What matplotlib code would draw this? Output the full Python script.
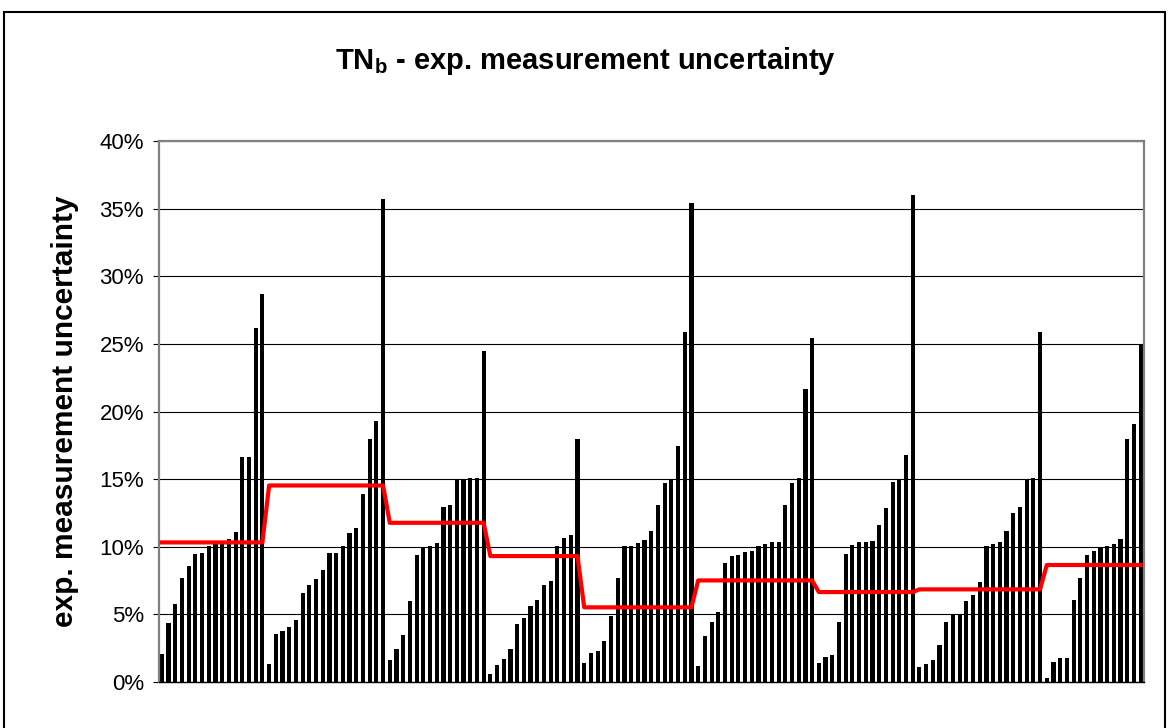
"""
TNb - expanded measurement uncertainty per sample, grouped by round,
with the per-round reference level drawn as a red step line.
"""

import matplotlib
matplotlib.use('Agg')
import matplotlib.pyplot as plt
import numpy as np
from matplotlib.patches import Rectangle
from matplotlib.ticker import FuncFormatter, MultipleLocator

plt.rcParams['font.family'] = ['Liberation Sans', 'DejaVu Sans']
plt.rcParams['mathtext.fontset'] = 'custom'
plt.rcParams['mathtext.rm'] = 'Liberation Sans:bold'
plt.rcParams['mathtext.bf'] = 'Liberation Sans:bold'

# ----------------------------------------------------------------------------
# Data (values in %)
# ----------------------------------------------------------------------------
round_1 = [2.07, 4.38, 5.76, 7.71, 8.57, 9.43, 9.56, 10.07, 10.17, 10.25, 10.54,
           11.1, 16.65, 16.65, 26.2, 28.7]
round_2 = [1.33, 3.52, 3.79, 4.09, 4.61, 6.6, 7.17, 7.61, 8.28, 9.56, 9.56,
           10.05, 10.99, 11.35, 13.9, 18.0, 19.3, 35.7]
round_3 = [1.63, 2.44, 3.45, 6.01, 9.38, 9.98, 10.05, 10.3, 12.96, 13.05, 14.98,
           15.02, 15.12, 15.12, 24.5]
round_4 = [0.57, 1.23, 1.67, 2.44, 4.26, 4.7, 5.62, 6.06, 7.17, 7.49, 10.07,
           10.67, 10.84, 17.93]
round_5 = [1.38, 2.12, 2.29, 3.0, 4.9, 7.71, 10.05, 10.05, 10.25, 10.47, 11.16,
           13.05, 14.73, 15.0, 17.46, 25.87, 35.4]
round_6 = [1.21, 3.42, 4.46, 5.15, 8.82, 9.29, 9.41, 9.58, 9.66, 10.05, 10.22,
           10.32, 10.32, 13.05, 14.73, 15.05, 21.63, 25.46]
round_7 = [1.43, 1.82, 1.97, 4.43, 9.48, 10.12, 10.37, 10.37, 10.39, 11.6, 12.88,
           14.78, 15.0, 16.82, 36.03]
round_8 = [1.13, 1.31, 1.63, 2.76, 4.46, 4.98, 4.98, 5.96, 6.43, 7.41, 10.05,
           10.17, 10.37, 11.16, 12.46, 12.96, 15.0, 15.05, 25.85]
round_9 = [0.3, 1.5, 1.75, 1.75, 6.06, 7.71, 9.41, 9.66, 9.98, 10.05, 10.22,
           10.54, 17.98, 19.11, 24.96]

rounds = [round_1, round_2, round_3, round_4, round_5, round_6, round_7, round_8, round_9]
round_level = [10.32, 14.53, 11.77, 9.31, 5.52, 7.51, 6.65, 6.85, 8.65]

TITLE = r'TN$_\mathrm{b}$ - exp. measurement uncertainty'
YLABEL = 'exp. measurement uncertainty'


def main():
    values = np.concatenate([np.array(r) for r in rounds])
    level = np.concatenate([np.full(len(r), lv) for r, lv in zip(rounds, round_level)])
    x = np.arange(len(values))

    fig = plt.figure(figsize=(11.7, 7.28), dpi=100)
    W, H = 1170, 728
    left, right, top, bottom = 158.5, 1144, 141, 682
    ax = fig.add_axes([left / W, 1 - bottom / H, (right - left) / W, (bottom - top) / H])

    ax.bar(x, values, width=0.62, color='black', zorder=2)
    ax.plot(x, level, color='#FF0000', linewidth=3.0, zorder=3)

    ax.set_xlim(-0.5, len(values) - 0.5)
    ax.set_ylim(0, 40)
    ax.yaxis.set_major_locator(MultipleLocator(5))
    ax.yaxis.set_major_formatter(FuncFormatter(lambda v, _: f'{v:.0f}%'))
    ax.set_xticks([])
    ax.grid(axis='y', color='black', linewidth=0.8, zorder=1)

    for name, s in ax.spines.items():
        s.set_color('#808080')
        s.set_linewidth(1.6)
    ax.spines['bottom'].set_color('black')
    ax.spines['bottom'].set_linewidth(1.0)
    ax.tick_params(axis='y', length=4.5, width=0.8, color='black', pad=6,
                   labelsize=16)

    ax.set_ylabel(YLABEL, fontsize=21.5, fontweight='bold', va='center')
    ax.yaxis.set_label_coords((65 - left) / (right - left), 0.5)

    fig.text(0.5, 1 - 61 / H, TITLE, ha='center', va='center',
             fontsize=21, fontweight='bold')

    fig.patches.append(Rectangle((4 / W, -0.01), (1165 - 4) / W, 1 - 12 / H + 0.01,
                                 transform=fig.transFigure, fill=False,
                                 edgecolor='black', linewidth=1.5))

    fig.savefig('out.png', dpi=100, facecolor='white')
    plt.close(fig)


if __name__ == '__main__':
    main()
